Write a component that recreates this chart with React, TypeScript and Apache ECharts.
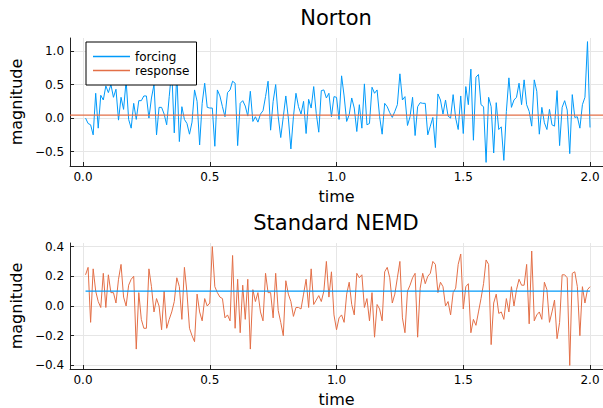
import React, { useEffect, useRef } from "react";
import * as echarts from "echarts";

// time grid: 0.01 .. 2.00, step 0.01
const T0 = 0.01;
const DT = 0.01;

const nortonForcing: number[] = [
  0.0, -0.08, -0.1, -0.25, 0.37, -0.15, 0.34, 0.27, 0.48, 0.38,
  0.5, 0.31, 0.43, -0.03, 0.31, 0.13, 0.56, -0.02, -0.15, 0.22,
  -0.02, 0.26, 0.26, 0.33, 0.33, 0.0, 0.3, 0.5, -0.25, 0.16,
  0.16, 0.06, -0.1, 0.32, 0.72, -0.22, 0.68, -0.35, 0.17, -0.02,
  -0.08, -0.24, -0.06, 0.42, 0.25, -0.4, 0.22, 0.52, 0.16, 0.15,
  0.15, -0.42, 0.42, 0.33, 0.17, 0.02, 0.38, 0.42, 0.55, 0.52,
  -0.41, 0.22, 0.26, 0.18, 0.03, 0.4, -0.05, 0.02, -0.06, 0.06,
  0.11, 0.32, 0.55, -0.18, 0.25, 0.5, 0.02, -0.29, 0.02, 0.33,
  0.0, -0.46, 0.02, 0.37, 0.17, 0.06, 0.25, -0.23, 0.28, 0.15,
  0.47, 0.07, -0.21, 0.41, 0.42, 0.3, 0.37, 0.02, 0.32, 0.31,
  -0.02, 0.63, 0.33, -0.05, 0.05, 0.3, 0.15, -0.2, 0.2, -0.15,
  0.51, -0.1, -0.08, 0.46, 0.37, 0.42, 0.02, -0.24, 0.22, 0.17,
  0.08, 0.01, 0.1, 0.2, 0.66, 0.27, 0.32, -0.11, 0.02, 0.31,
  -0.26, 0.17, 0.23, 0.22, 0.22, -0.25, -0.12, 0.01, -0.44, 0.36,
  0.27, 0.06, 0.27, 0.03, 0.0, 0.35, 0.0, -0.17, 0.33, -0.23,
  0.47, 0.2, 0.73, -0.33, 0.61, 0.65, 0.2, 0.17, -0.66, 0.31,
  0.17, -0.52, 0.23, -0.17, -0.13, -0.63, 0.1, 0.6, 0.16, 0.27,
  0.31, 0.52, 0.2, 0.57, 0.2, 0.1, -0.12, 0.57, 0.4, -0.24,
  0.16, -0.07, -0.17, 0.13, -0.1, -0.12, 0.41, -0.41, 0.16, 0.26,
  0.12, -0.53, 0.35, 0.01, 0.02, -0.15, 0.2, 0.31, 1.14, -0.14,
];

const nortonResponse = 0.045;

const nemdSeries: number[] = [
  0.21, 0.26, -0.11, 0.25, 0.1, 0.03, -0.01, 0.22, -0.01, 0.21,
  0.09, 0.09, 0.02, 0.18, 0.28, 0.06, 0.0, 0.14, 0.18, 0.2,
  -0.29, 0.09, -0.09, -0.15, -0.15, 0.25, 0.13, -0.04, 0.05, 0.0,
  -0.16, 0.1, -0.15, -0.09, -0.04, 0.03, 0.19, 0.13, -0.09, 0.26,
  0.09, -0.15, -0.2, -0.24, 0.08, -0.04, -0.1, 0.05, 0.0, 0.02,
  0.4, 0.13, 0.09, 0.06, 0.05, -0.08, -0.06, -0.1, 0.34, -0.15,
  0.18, -0.18, 0.14, -0.09, 0.18, -0.29, 0.11, 0.03, 0.09, -0.04,
  -0.1, 0.22, 0.09, 0.09, -0.08, 0.22, -0.03, -0.11, -0.2, 0.17,
  0.08, 0.03, -0.07, -0.01, -0.01, -0.02, 0.08, 0.18, -0.01, 0.25,
  0.01, 0.04, 0.07, 0.03, 0.1, 0.3, 0.06, 0.23, -0.06, -0.16,
  -0.08, -0.06, -0.11, 0.08, 0.16, 0.01, -0.06, 0.22, 0.19, 0.21,
  -0.01, 0.05, -0.1, 0.09, -0.21, 0.01, -0.02, -0.1, 0.23, 0.26,
  0.19, 0.02, 0.08, 0.19, 0.3, -0.08, -0.18, 0.1, 0.14, 0.19,
  0.22, -0.21, 0.12, 0.22, 0.15, 0.2, 0.22, 0.3, 0.28, 0.09,
  0.16, 0.13, 0.0, 0.03, -0.06, 0.09, 0.12, 0.28, 0.35, -0.02,
  0.13, 0.15, -0.18, -0.09, -0.13, -0.04, 0.05, 0.15, 0.31, 0.28,
  -0.26, 0.02, 0.08, -0.05, -0.04, -0.09, 0.05, -0.04, 0.13, 0.0,
  0.11, 0.18, 0.14, 0.14, 0.28, -0.12, 0.37, -0.1, -0.06, -0.04,
  -0.09, 0.16, 0.11, -0.11, -0.04, 0.04, -0.22, -0.11, 0.21, 0.21,
  0.19, -0.4, 0.22, 0.23, 0.13, -0.2, 0.13, 0.02, 0.11, 0.13,
];

const nemdMean = 0.1;

const xTicks = [0, 0.5, 1.0, 1.5, 2.0];
const yTicksTop = [-0.5, 0, 0.5, 1.0];
const yTicksBottom = [-0.4, -0.2, 0, 0.2, 0.4];

const X_MIN = -0.0512;
const X_MAX = 2.0512;

const BLUE = "#009AFA";
const ORANGE = "#E36F47";
const FONT = "DejaVu Sans";
const AXIS = "#222222";
const GRID = "#e6e6e6";

const fmt = (v: number) => {
  const s = Math.abs(v) < 1e-9 ? "0.0" : v.toFixed(1);
  return s.replace("-", "\u2212");
};

export default function App() {
  const ref = useRef<HTMLDivElement>(null);

  useEffect(() => {
    if (!ref.current) return;
    const chart = echarts.init(ref.current, undefined, { renderer: "svg" });
    const times = nortonForcing.map((_, i) => +(T0 + i * DT).toFixed(2));
    const forcingData = times.map((t, i) => [t, nortonForcing[i]]);
    const responseData = [
      [X_MIN, nortonResponse],
      [X_MAX, nortonResponse],
    ];
    const nemdData = times.map((t, i) => [t, nemdSeries[i]]);
    const nemdMeanData = [
      [times[0], nemdMean],
      [times[times.length - 1], nemdMean],
    ];

    const xAxisBase = (gridIndex: number) => ({
      type: "value" as const,
      gridIndex,
      min: X_MIN,
      max: X_MAX,
      name: "time",
      nameLocation: "middle" as const,
      nameGap: 22,
      nameTextStyle: { fontFamily: FONT, fontSize: 16, color: "#000" },
      axisLine: { show: true, onZero: false, lineStyle: { color: AXIS, width: 1 } },
      axisTick: { show: true, inside: true, length: 4, customValues: xTicks, lineStyle: { color: AXIS } },
      axisLabel: {
        customValues: xTicks,
        formatter: (v: number) => fmt(v),
        fontFamily: FONT,
        fontSize: 12,
        color: "#000",
        margin: 5,
      },
      splitLine: { show: true, lineStyle: { color: GRID, width: 1 } },
    });

    const yAxisBase = (gridIndex: number, min: number, max: number, ticks: number[]) => ({
      type: "value" as const,
      gridIndex,
      min,
      max,
      name: "magnitude",
      nameLocation: "middle" as const,
      nameGap: 45,
      nameTextStyle: { fontFamily: FONT, fontSize: 16, color: "#000" },
      axisLine: { show: true, onZero: false, lineStyle: { color: AXIS, width: 1 } },
      axisTick: { show: true, inside: true, length: 4, customValues: ticks, lineStyle: { color: AXIS } },
      axisLabel: {
        customValues: ticks,
        formatter: (v: number) => fmt(v),
        fontFamily: FONT,
        fontSize: 12,
        color: "#000",
        margin: 6,
      },
      splitLine: { show: true, lineStyle: { color: GRID, width: 1 } },
    });

    chart.setOption({
      animation: false,
      backgroundColor: "#ffffff",
      grid: [
        { left: 69, top: 38, right: 0, height: 128, containLabel: false },
        { left: 69, top: 243, right: 0, height: 128, containLabel: false },
      ],
      xAxis: [xAxisBase(0), xAxisBase(1)],
      yAxis: [
        yAxisBase(0, -0.714, 1.194, yTicksTop),
        yAxisBase(1, -0.424, 0.424, yTicksBottom),
      ],
      legend: {
        data: ["forcing", "response"],
        orient: "vertical",
        left: 86,
        top: 42,
        icon: "rect",
        itemWidth: 37,
        itemHeight: 1.5,
        itemGap: 1,
        padding: [8, 7, 8, 7],
        backgroundColor: "#ffffff",
        borderColor: "#000000",
        borderWidth: 1,
        borderRadius: 0,
        selectedMode: false,
        z: 10,
        textStyle: { fontFamily: FONT, fontSize: 12, color: "#000", lineHeight: 13, padding: 0 },
      },
      graphic: [
        {
          type: "text",
          x: 336,
          y: 18,
          style: { text: "Norton", align: "center", verticalAlign: "middle", fontFamily: FONT, fontSize: 21, fill: "#000" },
        },
        {
          type: "text",
          x: 336,
          y: 222.5,
          style: { text: "Standard NEMD", align: "center", verticalAlign: "middle", fontFamily: FONT, fontSize: 21, fill: "#000" },
        },
      ],
      series: [
        {
          name: "forcing",
          type: "line",
          xAxisIndex: 0,
          yAxisIndex: 0,
          data: forcingData,
          symbol: "none",
          color: BLUE,
          lineStyle: { color: BLUE, width: 1 },
          silent: true,
        },
        {
          name: "response",
          type: "line",
          xAxisIndex: 0,
          yAxisIndex: 0,
          data: responseData,
          symbol: "none",
          color: ORANGE,
          lineStyle: { color: ORANGE, width: 1.2 },
          silent: true,
        },
        {
          name: "NEMD forcing",
          type: "line",
          xAxisIndex: 1,
          yAxisIndex: 1,
          data: nemdData,
          symbol: "none",
          color: ORANGE,
          lineStyle: { color: ORANGE, width: 1 },
          silent: true,
        },
        {
          name: "NEMD response",
          type: "line",
          xAxisIndex: 1,
          yAxisIndex: 1,
          data: nemdMeanData,
          symbol: "none",
          color: BLUE,
          lineStyle: { color: BLUE, width: 1.2 },
          silent: true,
        },
      ],
    });
    return () => chart.dispose();
  }, []);

  return (
    <div
      ref={ref}
      style={{ position: "fixed", left: 0, top: 0, width: 603, height: 408, background: "#fff" }}
    />
  );
}
